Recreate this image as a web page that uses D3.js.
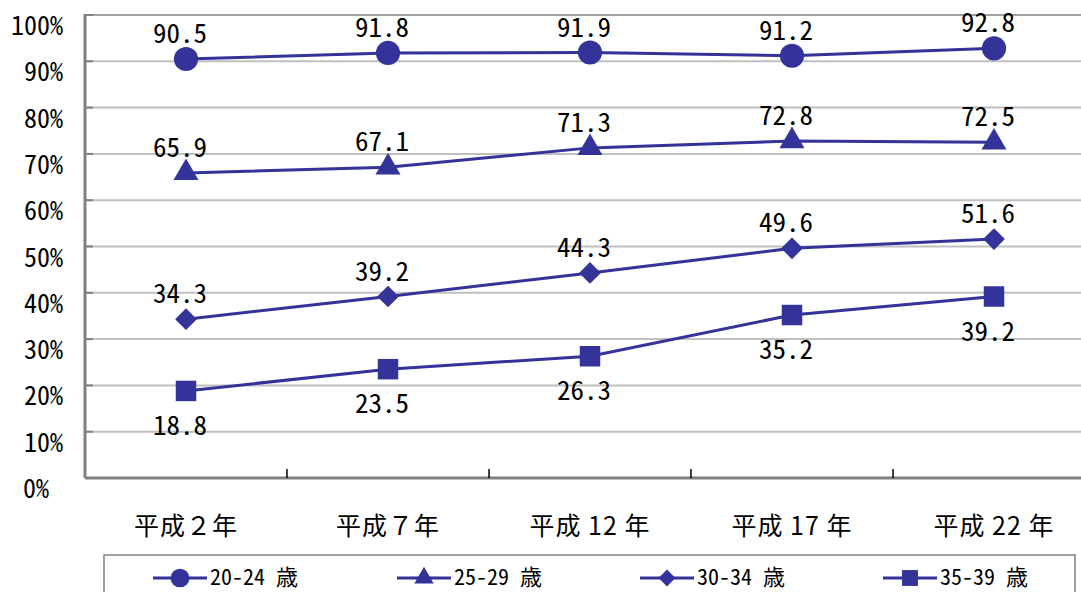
<!DOCTYPE html>
<html lang="ja">
<head>
<meta charset="UTF-8">
<title>年齢別 推移</title>
<script src="https://cdn.jsdelivr.net/npm/d3@7"></script>
<style>
    body { margin: 0; padding: 0; background: #fff; overflow: hidden; }
    svg { display: block; }
    .num { font-family: "Noto Sans Mono CJK JP", "Liberation Mono", monospace; font-size: 27px; fill: #000; }
    .ylab { font-family: "Noto Sans Mono CJK JP", "Liberation Mono", monospace; font-size: 26px; fill: #000; }
    .xlab { font-family: "Noto Sans CJK JP", sans-serif; font-size: 25px; fill: #000; letter-spacing: 1px; }
    .leg { font-family: "Noto Sans Mono CJK JP", "Noto Sans CJK JP", monospace; font-size: 22px; fill: #000; }
</style>
</head>
<body>
<svg id="chart" width="1081" height="592"></svg>
<script>
    // data
    const years = ["平成２年", "平成７年", "平成 12 年", "平成 17 年", "平成 22 年"];
    const seriesNames = ["20-24 歳", "25-29 歳", "30-34 歳", "35-39 歳"];
    const age2024 = [90.5, 91.8, 91.9, 91.2, 92.8];
    const age2529 = [65.9, 67.1, 71.3, 72.8, 72.5];
    const age3034 = [34.3, 39.2, 44.3, 49.6, 51.6];
    const age3539 = [18.8, 23.5, 26.3, 35.2, 39.2];
    const yTicks = [0, 10, 20, 30, 40, 50, 60, 70, 80, 90, 100];

    const color = "#333399";
    const series = [
        { name: seriesNames[0], values: age2024, shape: d3.symbolCircle, size: 460, rot: 0, below: false },
        { name: seriesNames[1], values: age2529, shape: d3.symbolTriangle, size: 270, rot: 0, below: false },
        { name: seriesNames[2], values: age3034, shape: d3.symbolSquare, size: 235, rot: 45, below: false },
        { name: seriesNames[3], values: age3539, shape: d3.symbolSquare, size: 420, rot: 0, below: true }
    ];

    const svg = d3.select("#chart");
    const plotLeft = 85, plotTop = 15, plotBottom = 478;

    const x = d3.scaleBand().domain(years).range([plotLeft, plotLeft + 5 * 202]);
    const y = d3.scaleLinear().domain([0, 100]).range([plotBottom, plotTop]);
    const cx = d => x(d) + x.bandwidth() / 2;

    // gridlines
    svg.append("g")
        .selectAll("line")
        .data(yTicks.filter(t => t > 0))
        .enter().append("line")
        .attr("x1", plotLeft).attr("x2", 1100)
        .attr("y1", d => y(d)).attr("y2", d => y(d))
        .attr("stroke", d => d === 100 ? "#a0a0a0" : "#c0c0c0")
        .attr("stroke-width", 2);

    // left axis + inner ticks
    svg.append("line")
        .attr("x1", plotLeft).attr("x2", plotLeft)
        .attr("y1", y(100) - 1).attr("y2", plotBottom)
        .attr("stroke", "#808080").attr("stroke-width", 3);
    svg.append("g")
        .selectAll("line")
        .data(yTicks)
        .enter().append("line")
        .attr("x1", plotLeft).attr("x2", plotLeft + 8)
        .attr("y1", d => y(d)).attr("y2", d => y(d))
        .attr("stroke", "#808080").attr("stroke-width", 2);

    svg.append("g")
        .selectAll("text")
        .data(yTicks)
        .enter().append("text")
        .attr("class", "ylab")
        .attr("x", d => d === 0 ? 49 : 63)
        .attr("y", d => y(d) + 20)
        .attr("text-anchor", "end")
        .text(d => d + "%");

    // bottom axis
    svg.append("line")
        .attr("x1", plotLeft).attr("x2", 1100)
        .attr("y1", plotBottom).attr("y2", plotBottom)
        .attr("stroke", "#808080").attr("stroke-width", 3);
    svg.append("g")
        .selectAll("line")
        .data(years.slice(1))
        .enter().append("line")
        .attr("x1", d => x(d)).attr("x2", d => x(d))
        .attr("y1", plotBottom - 9).attr("y2", plotBottom)
        .attr("stroke", "#000").attr("stroke-width", 1.5);

    svg.append("g")
        .selectAll("text")
        .data(years)
        .enter().append("text")
        .attr("class", "xlab")
        .attr("x", d => cx(d))
        .attr("y", 535)
        .attr("text-anchor", "middle")
        .text(d => d);

    // lines, markers, labels
    const line = d3.line()
        .x((d, i) => cx(years[i]))
        .y(d => y(d));

    series.forEach(s => {
        const g = svg.append("g");
        g.append("path")
            .datum(s.values)
            .attr("d", line)
            .attr("fill", "none")
            .attr("stroke", color)
            .attr("stroke-width", 3);

        g.selectAll("path.m")
            .data(s.values)
            .enter().append("path")
            .attr("class", "m")
            .attr("transform", (d, i) => `translate(${cx(years[i])},${y(d)}) rotate(${s.rot})`)
            .attr("d", d3.symbol().type(s.shape).size(s.size))
            .attr("fill", color);

        g.selectAll("text")
            .data(s.values)
            .enter().append("text")
            .attr("class", "num")
            .attr("x", (d, i) => cx(years[i]) - 6)
            .attr("y", d => s.below ? y(d) + 44 : y(d) - 16)
            .attr("text-anchor", "middle")
            .text(d => d.toFixed(1));
    });

    // legend
    svg.append("rect")
        .attr("x", 104).attr("y", 555)
        .attr("width", 971).attr("height", 60)
        .attr("fill", "none")
        .attr("stroke", "#808080")
        .attr("stroke-width", 1.5);

    const legX = [153, 397, 640, 883];
    const leg = svg.append("g")
        .selectAll("g")
        .data(series)
        .enter().append("g")
        .attr("transform", (d, i) => `translate(${legX[i]},578)`);
    leg.append("line")
        .attr("x1", 0).attr("x2", 54)
        .attr("stroke", color).attr("stroke-width", 3);
    leg.append("path")
        .attr("transform", d => `translate(27,0) rotate(${d.rot})`)
        .attr("d", d => d3.symbol().type(d.shape).size(d.size * 0.6)())
        .attr("fill", color);
    leg.append("text")
        .attr("class", "leg")
        .attr("x", 57)
        .attr("y", 7)
        .text(d => d.name);
</script>
</body>
</html>
